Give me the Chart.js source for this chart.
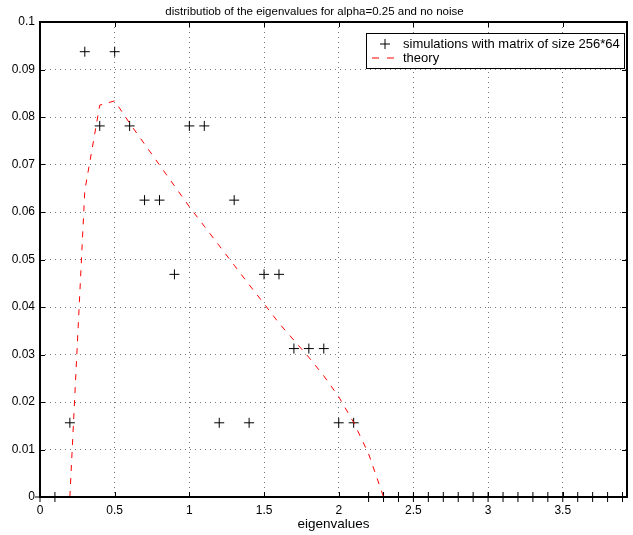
<!DOCTYPE html>
<html>
<head>
<meta charset="utf-8">
<script src="https://cdn.jsdelivr.net/npm/chart.js@4/dist/chart.umd.min.js"></script>
<style>
  html, body { margin: 0; padding: 0; background: #fff; }
  #wrap { width: 633px; height: 535px; }
</style>
</head>
<body>
<div id="wrap"><canvas id="c" width="633" height="535"></canvas></div>
<script>
const FONT = '"Liberation Sans", Arial, Helvetica, sans-serif';

// Histogram bin centres and normalised counts (count / 64)
const binCenters = [0, 0.1, 0.2, 0.3, 0.4, 0.5, 0.6, 0.7, 0.8, 0.9,
                    1.0, 1.1, 1.2, 1.3, 1.4, 1.5, 1.6, 1.7, 1.8, 1.9,
                    2.0, 2.1, 2.2, 2.3, 2.4, 2.5, 2.6, 2.7, 2.8, 2.9,
                    3.0, 3.1, 3.2, 3.3, 3.4, 3.5, 3.6, 3.7, 3.8, 3.9];
const simValues = [0, 0, 0.015625, 0.09375, 0.078125, 0.09375, 0.078125, 0.0625, 0.0625, 0.046875,
                   0.078125, 0.078125, 0.015625, 0.0625, 0.015625, 0.046875, 0.046875, 0.03125, 0.03125, 0.03125,
                   0.015625, 0.015625, 0, 0, 0, 0, 0, 0, 0, 0,
                   0, 0, 0, 0, 0, 0, 0, 0, 0, 0];

// Theoretical density on the same 0.1 grid
const theoryX = [0.2, 0.3, 0.4, 0.5, 0.6, 0.7, 0.8, 0.9, 1.0, 1.1, 1.2,
                 1.3, 1.4, 1.5, 1.6, 1.7, 1.8, 1.9, 2.0, 2.1, 2.2, 2.3];
const theoryY = [0, 0.0645, 0.0825, 0.0834, 0.0787, 0.0743, 0.0699, 0.0655, 0.0611, 0.0570, 0.0529,
                 0.0488, 0.0447, 0.0407, 0.0366, 0.0330, 0.0294, 0.0255, 0.0211, 0.0157, 0.0091, 0];

const xTickValues = [0, 0.5, 1, 1.5, 2, 2.5, 3, 3.5];
const xTickLabels = ['0', '0.5', '1', '1.5', '2', '2.5', '3', '3.5'];
const yTickValues = [0, 0.01, 0.02, 0.03, 0.04, 0.05, 0.06, 0.07, 0.08, 0.09, 0.1];
const yTickLabels = ['0', '0.01', '0.02', '0.03', '0.04', '0.05', '0.06', '0.07', '0.08', '0.09', '0.1'];

const simPoints = binCenters.map((x, i) => ({ x, y: simValues[i] }));
const theoryPoints = theoryX.map((x, i) => ({ x, y: theoryY[i] }));

// Box around the axes with inward tick marks on all four sides
const axesBox = {
  id: 'axesBox',
  afterDatasetsDraw(chart) {
    const { ctx, chartArea: a, scales: { x, y } } = chart;
    const len = 5;
    ctx.save();
    ctx.strokeStyle = '#000';
    ctx.lineWidth = 1;
    ctx.beginPath();
    xTickValues.forEach(v => {
      const px = Math.round(x.getPixelForValue(v)) + 0.5;
      ctx.moveTo(px, a.bottom); ctx.lineTo(px, a.bottom - len);
      ctx.moveTo(px, a.top); ctx.lineTo(px, a.top + len);
    });
    yTickValues.forEach(v => {
      const py = Math.round(y.getPixelForValue(v)) + 0.5;
      ctx.moveTo(a.left, py); ctx.lineTo(a.left + len, py);
      ctx.moveTo(a.right, py); ctx.lineTo(a.right - len, py);
    });
    ctx.stroke();
    ctx.lineWidth = 2;
    ctx.strokeRect(a.left, a.top, a.right - a.left, a.bottom - a.top);
    ctx.restore();
  }
};

// Boxed legend in the upper right corner of the axes
const boxLegend = {
  id: 'boxLegend',
  afterDraw(chart) {
    const { ctx, chartArea: a } = chart;
    const ds = chart.data.datasets;
    const left = 366, top = a.top + 11, right = a.right - 2, rowH = 14;
    const bottom = top + 2 * rowH + 8;
    ctx.save();
    ctx.fillStyle = '#fff';
    ctx.fillRect(left, top, right - left, bottom - top);
    ctx.strokeStyle = '#000';
    ctx.lineWidth = 1;
    ctx.strokeRect(left + 0.5, top + 0.5, right - left - 1, bottom - top - 1);
    const r1 = top + 4 + rowH / 2, r2 = r1 + rowH;
    // marker sample
    ctx.beginPath();
    ctx.moveTo(380, r1); ctx.lineTo(390, r1);
    ctx.moveTo(385, r1 - 5); ctx.lineTo(385, r1 + 5);
    ctx.stroke();
    // line sample
    ctx.strokeStyle = '#ff0000';
    ctx.setLineDash([7, 8]);
    ctx.beginPath();
    ctx.moveTo(372, r2); ctx.lineTo(397, r2);
    ctx.stroke();
    ctx.setLineDash([]);
    ctx.fillStyle = '#000';
    ctx.font = '13px ' + FONT;
    ctx.textBaseline = 'middle';
    ctx.textAlign = 'left';
    ctx.fillText(ds[1].label, 403, r1);
    ctx.fillText(ds[0].label, 403, r2);
    ctx.restore();
  }
};

new Chart(document.getElementById('c'), {
  type: 'scatter',
  data: {
    datasets: [
      {
        label: 'theory',
        data: theoryPoints,
        showLine: true,
        borderColor: '#ff0000',
        borderWidth: 1,
        borderDash: [6, 7],
        pointRadius: 0,
        fill: false,
        tension: 0,
        clip: false
      },
      {
        label: 'simulations with matrix of size 256*64',
        data: simPoints,
        showLine: false,
        pointStyle: 'cross',
        pointRadius: 5,
        pointBorderColor: '#000',
        pointBorderWidth: 1,
        borderColor: '#000',
        clip: false
      }
    ]
  },
  options: {
    responsive: false,
    animation: false,
    events: [],
    layout: { padding: { top: 0, right: 4, bottom: 0, left: 0 } },
    plugins: {
      legend: { display: false },
      tooltip: { enabled: false },
      title: {
        display: true,
        text: 'distributiob of the eigenvalues for alpha=0.25 and no noise',
        color: '#000',
        font: { family: FONT, size: 11.5, weight: 'normal' },
        padding: { top: 4.5, bottom: 3.7 }
      }
    },
    scales: {
      x: {
        type: 'linear',
        min: 0,
        max: 3.93,
        afterBuildTicks(scale) { scale.ticks = xTickValues.map(v => ({ value: v })); },
        afterFit(scale) { scale.height = 38; },
        ticks: {
          color: '#000',
          padding: 6,
          maxRotation: 0,
          font: { family: FONT, size: 12 },
          callback: (v, i) => xTickLabels[i]
        },
        grid: { color: '#777', lineWidth: 1, drawTicks: false },
        border: { display: false, dash: [1, 4] },
        title: {
          display: true,
          text: 'eigenvalues',
          color: '#000',
          font: { family: FONT, size: 13.5 },
          padding: { top: 0, bottom: 2.5 }
        }
      },
      y: {
        type: 'linear',
        min: 0,
        max: 0.1,
        afterBuildTicks(scale) { scale.ticks = yTickValues.map(v => ({ value: v })); },
        afterFit(scale) { scale.width = 40; },
        ticks: {
          color: '#000',
          padding: 5,
          font: { family: FONT, size: 12 },
          callback: (v, i) => yTickLabels[i]
        },
        grid: { color: '#777', lineWidth: 1, drawTicks: false },
        border: { display: false, dash: [1, 4] }
      }
    }
  },
  plugins: [axesBox, boxLegend]
});
</script>
</body>
</html>
